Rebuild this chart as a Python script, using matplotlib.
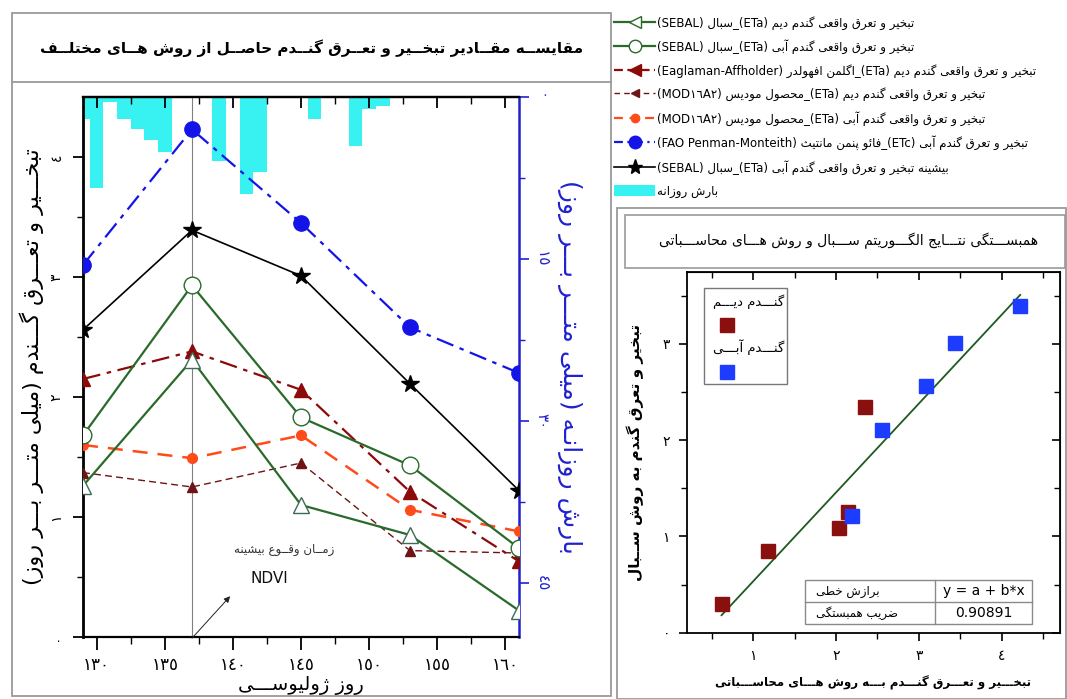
import numpy as np
import matplotlib
matplotlib.use("Agg")
import matplotlib.pyplot as plt
from matplotlib import font_manager, ft2font
from matplotlib.font_manager import FontProperties
from matplotlib.lines import Line2D
from matplotlib.patches import Rectangle, Patch

plt.rcParams['font.family'] = ['DejaVu Sans']

# ---------------- data ----------------
days = [129, 137, 145, 153, 161]
sebal_dry = [1.26, 2.31, 1.10, 0.85, 0.22]
sebal_irr = [1.68, 2.93, 1.83, 1.43, 0.74]
eagleman_dry = [2.15, 2.38, 2.06, 1.21, 0.63]
modis_dry = [1.37, 1.25, 1.45, 0.72, 0.70]
modis_irr = [1.60, 1.49, 1.68, 1.06, 0.88]
fao_irr = [3.10, 4.23, 3.45, 2.58, 2.20]
sebal_max = [2.56, 3.39, 3.01, 2.11, 1.22]

rain_days = [129, 130, 131, 132, 133, 134, 135, 139, 141, 142, 146, 149, 150, 151]
rain_mm = [2.0, 8.4, 0.5, 2.0, 3.0, 4.0, 5.05, 5.95, 8.95, 6.95, 2.0, 4.5, 1.08, 0.87]

sc_dry_x = [0.62, 1.18, 2.04, 2.14, 2.35]
sc_dry_y = [0.30, 0.85, 1.09, 1.25, 2.34]
sc_irr_x = [2.19, 2.56, 3.09, 3.44, 4.22]
sc_irr_y = [1.21, 2.11, 2.56, 3.01, 3.39]
corr_text = "0.90891"
fit_text = "y = a + b*x"

xticks_main = [130, 135, 140, 145, 150, 155, 160]
xtick_labels_main = ['١٣٠', '١٣٥', '١٤٠', '١٤٥', '١٥٠', '١٥٥', '١٦٠']
yticks_main = [0, 1, 2, 3, 4]
ytick_labels_main = ['٠', '١', '٢', '٣', '٤']
yticks_rain = [0, 15, 30, 45]
ytick_labels_rain = ['٠', '١٥', '٣٠', '٤٥']
xticks_sc = [1, 2, 3, 4]
xtick_labels_sc = ['١', '٢', '٣', '٤']
yticks_sc = [0, 1, 2, 3]
ytick_labels_sc = ['٠', '١', '٢', '٣']

title_main = "مقایســه مقــادیر تبخــیر و تعــرق گنــدم حاصــل از روش هــای مختلــف"
xlabel_main = "روز ژولیوســـی"
ylabel_main = "تبخـــیر و تعـــرق گـــندم (میلی متـــر بـــر روز)"
ylabel_rain = "بارش روزانـه (میلی متـــر بـــر روز)"
annot_text = "زمــان وقــوع بیشینه"
annot_ndvi = "NDVI"
legend_labels = [
    "تبخیر و تعرق واقعی گندم دیم (ETa)_سبال (SEBAL)",
    "تبخیر و تعرق واقعی گندم آبی (ETa)_سبال (SEBAL)",
    "تبخیر و تعرق واقعی گندم دیم (ETa)_اگلمن افهولدر (Eaglaman-Affholder)",
    "تبخیر و تعرق واقعی گندم دیم (ETa)_محصول مودیس (MOD١٦A٢)",
    "تبخیر و تعرق واقعی گندم آبی (ETa)_محصول مودیس (MOD١٦A٢)",
    "تبخیر و تعرق گندم آبی (ETc)_فائو پنمن مانتیث (FAO Penman-Monteith)",
    "بیشینه تبخیر و تعرق واقعی گندم آبی (ETa)_سبال (SEBAL)",
    "بارش روزانه",
]
title_sc = "همبســـتگی نتـــایج الگـــوریتم ســـبال و روش هـــای محاســـباتی"
xlabel_sc = "تبخـــیر و تعـــرق گنـــدم بـــه روش هـــای محاســـباتی"
ylabel_sc = "تبخیر و تعرق گندم به روش ســبال"
leg_sc_dry = "گنـــدم دیـــم"
leg_sc_irr = "گنـــدم آبـــی"
fit_label = "برازش خطی"
corr_label = "ضریب همبستگی"

# ---------------- Persian shaping (display only) ----------------
FORMS = {
    'ا': ('\uFE8D', '\uFE8E'), 'آ': ('\uFE81', '\uFE82'), 'أ': ('\uFE83', '\uFE84'),
    'ئ': ('\uFE89', '\uFE8A', '\uFE8B', '\uFE8C'),
    'ب': ('\uFE8F', '\uFE90', '\uFE91', '\uFE92'), 'پ': ('\uFB56', '\uFB57', '\uFB58', '\uFB59'),
    'ت': ('\uFE95', '\uFE96', '\uFE97', '\uFE98'), 'ث': ('\uFE99', '\uFE9A', '\uFE9B', '\uFE9C'),
    'ج': ('\uFE9D', '\uFE9E', '\uFE9F', '\uFEA0'), 'چ': ('\uFB7A', '\uFB7B', '\uFB7C', '\uFB7D'),
    'ح': ('\uFEA1', '\uFEA2', '\uFEA3', '\uFEA4'), 'خ': ('\uFEA5', '\uFEA6', '\uFEA7', '\uFEA8'),
    'د': ('\uFEA9', '\uFEAA'), 'ذ': ('\uFEAB', '\uFEAC'), 'ر': ('\uFEAD', '\uFEAE'),
    'ز': ('\uFEAF', '\uFEB0'), 'ژ': ('\uFB8A', '\uFB8B'),
    'س': ('\uFEB1', '\uFEB2', '\uFEB3', '\uFEB4'), 'ش': ('\uFEB5', '\uFEB6', '\uFEB7', '\uFEB8'),
    'ص': ('\uFEB9', '\uFEBA', '\uFEBB', '\uFEBC'), 'ض': ('\uFEBD', '\uFEBE', '\uFEBF', '\uFEC0'),
    'ط': ('\uFEC1', '\uFEC2', '\uFEC3', '\uFEC4'), 'ظ': ('\uFEC5', '\uFEC6', '\uFEC7', '\uFEC8'),
    'ع': ('\uFEC9', '\uFECA', '\uFECB', '\uFECC'), 'غ': ('\uFECD', '\uFECE', '\uFECF', '\uFED0'),
    'ف': ('\uFED1', '\uFED2', '\uFED3', '\uFED4'), 'ق': ('\uFED5', '\uFED6', '\uFED7', '\uFED8'),
    'ک': ('\uFB8E', '\uFB8F', '\uFB90', '\uFB91'), 'گ': ('\uFB92', '\uFB93', '\uFB94', '\uFB95'),
    'ل': ('\uFEDD', '\uFEDE', '\uFEDF', '\uFEE0'), 'م': ('\uFEE1', '\uFEE2', '\uFEE3', '\uFEE4'),
    'ن': ('\uFEE5', '\uFEE6', '\uFEE7', '\uFEE8'), 'ه': ('\uFEE9', '\uFEEA', '\uFEEB', '\uFEEC'),
    'و': ('\uFEED', '\uFEEE'), 'ی': ('\uFBFC', '\uFBFD', '\uFBFE', '\uFBFF'),
}
FALLBACK = {
    'ک': ('\uFED9', '\uFEDA', '\uFEDB', '\uFEDC'), 'گ': ('\uFED9', '\uFEDA', '\uFEDB', '\uFEDC'),
    'ی': ('\uFEEF', '\uFEF0', '\uFEF3', '\uFEF4'), 'پ': ('\uFE8F', '\uFE90', '\uFE91', '\uFE92'),
    'چ': ('\uFE9D', '\uFE9E', '\uFE9F', '\uFEA0'), 'ژ': ('\uFEAF', '\uFEB0'),
}
LAM_ALEF = {'ا': ('\uFEFB', '\uFEFC'), 'آ': ('\uFEF5', '\uFEF6'), 'أ': ('\uFEF7', '\uFEF8')}
TATWEEL = '\u0640'


def _charmap(weight):
    try:
        path = font_manager.findfont(FontProperties(family='DejaVu Sans', weight=weight))
        return ft2font.FT2Font(path).get_charmap()
    except Exception:
        return None


CMAP = _charmap('normal')
CMAP_B = _charmap('bold')
BOLD_OK = CMAP_B is not None and 0xFEB3 in CMAP_B and 0xFB92 in CMAP_B


def _build_forms(cmap):
    res = {}
    for k, v in FORMS.items():
        if cmap is None or all(ord(c) in cmap for c in v):
            res[k] = v
        elif k in FALLBACK and all(ord(c) in cmap for c in FALLBACK[k]):
            res[k] = FALLBACK[k]
        else:
            res[k] = tuple(k for _ in v)
    return res


USE_FORMS = _build_forms(CMAP)


def _jn(ch):
    return ch == TATWEEL or (ch in FORMS and len(FORMS[ch]) == 4)


def _jp(ch):
    return ch == TATWEEL or ch in FORMS


def shape(s):
    out = []
    i = 0
    n = len(s)
    while i < n:
        ch = s[i]
        prev = s[i - 1] if i > 0 else ''
        nxt = s[i + 1] if i + 1 < n else ''
        pj = _jn(prev) if prev else False
        if ch == 'ل' and nxt in LAM_ALEF:
            out.append(LAM_ALEF[nxt][1 if pj else 0])
            i += 2
            continue
        if ch in USE_FORMS:
            f = USE_FORMS[ch]
            nj = _jp(nxt) if nxt else False
            if len(f) == 4:
                g = f[3] if (pj and nj) else f[1] if pj else f[2] if nj else f[0]
            else:
                g = f[1] if pj else f[0]
            out.append(g)
        elif ch != '\u200c':
            out.append(ch)
        i += 1
    return ''.join(out)


MIRROR = {'(': ')', ')': '(', '[': ']', ']': '['}


def _is_rtl(ch):
    o = ord(ch)
    if 0x0660 <= o <= 0x0669 or 0x06F0 <= o <= 0x06F9:
        return False
    return (0x0600 <= o <= 0x06FF) or (0xFB50 <= o <= 0xFDFF) or (0xFE70 <= o <= 0xFEFF)


def fa(s):
    """logical Persian text -> visual order for matplotlib"""
    t = shape(s)
    types = ['R' if _is_rtl(c) else ('L' if c.isalnum() else 'N') for c in t]
    res = list(types)
    for i, tp in enumerate(types):
        if tp == 'N':
            p = next((types[j] for j in range(i - 1, -1, -1) if types[j] != 'N'), 'R')
            q = next((types[j] for j in range(i + 1, len(types)) if types[j] != 'N'), 'R')
            res[i] = 'L' if (p == 'L' and q == 'L') else 'R'
    runs = []
    for c, tp in zip(t, res):
        if runs and runs[-1][0] == tp:
            runs[-1][1].append(c)
        else:
            runs.append([tp, [c]])
    out = []
    for tp, chars in reversed(runs):
        if tp == 'R':
            out.extend(MIRROR.get(c, c) for c in reversed(chars))
        else:
            out.extend(chars)
    return ''.join(out)


BW = 'bold' if BOLD_OK else 'normal'

# ---------------- figure ----------------
W, H = 1067, 699
fig = plt.figure(figsize=(W / 100, H / 100), dpi=100)


def fx(x):
    return x / W


def fy(y):
    return 1 - y / H


GREY = '#9a9a9a'
# panel frames
fig.add_artist(Rectangle((fx(12), fy(696)), fx(611) - fx(12), fy(13) - fy(696),
                         transform=fig.transFigure, fill=False, ec=GREY, lw=1.3))
fig.add_artist(Line2D([fx(12), fx(611)], [fy(82), fy(82)], transform=fig.transFigure, color=GREY, lw=1.3))
fig.add_artist(Rectangle((fx(617), fy(699)), fx(1066) - fx(617), fy(208) - fy(699),
                         transform=fig.transFigure, fill=False, ec=GREY, lw=1.3))
fig.add_artist(Rectangle((fx(625), fy(268)), fx(1065) - fx(625), fy(215) - fy(268),
                         transform=fig.transFigure, fill=False, ec=GREY, lw=1.2))

fig.text(fx(312), fy(48), fa(title_main), ha='center', va='center', fontsize=11, fontweight=BW)
fig.text(fx(849), fy(241), fa(title_sc), ha='center', va='center', fontsize=10)

# ---------------- main axes ----------------
ax = fig.add_axes([fx(83), fy(637), fx(519) - fx(83), fy(97) - fy(637)])
ax2 = ax.twinx()
CYAN = '#38f2f2'
ax2.bar(rain_days, rain_mm, width=1.0, color=CYAN, edgecolor='none', zorder=1)
ax2.set_ylim(50, 0)
ax2.set_yticks(yticks_rain)
ax2.set_yticklabels(ytick_labels_rain, rotation=270, va='center')
ax2.set_yticks([7.5, 22.5, 37.5], minor=True)
BLUE_AX = '#2020d0'
ax2.tick_params(axis='y', which='major', direction='out', length=7, width=1.2, colors=BLUE_AX,
                labelsize=11, pad=4)
ax2.tick_params(axis='y', which='minor', direction='out', length=4, width=1.0, colors=BLUE_AX)
for s in ['left', 'top', 'bottom']:
    ax2.spines[s].set_visible(False)
ax2.spines['right'].set_color(BLUE_AX)
ax2.spines['right'].set_linewidth(1.8)
ax2.set_ylabel(fa(ylabel_rain), color=BLUE_AX, fontsize=18, rotation=270, labelpad=24)

ax.set_zorder(ax2.get_zorder() + 1)
ax.patch.set_visible(False)

GREEN = '#2a6a2a'
ax.axvline(137, color='#808080', lw=0.8, zorder=1)
ax.plot(days, sebal_dry, color=GREEN, ls='-', lw=1.6, marker='^', ms=11, mfc='white', mec='#3d6b55',
        mew=1.0, zorder=4)
ax.plot(days, sebal_irr, color=GREEN, ls='-', lw=1.6, marker='o', ms=12, mfc='white', mec=GREEN,
        mew=1.0, zorder=4)
ax.plot(days, eagleman_dry, color='#8b0a0a', ls=(0, (8, 3, 2, 3)), lw=1.6, marker='^', ms=10,
        mfc='#8b0a0a', mec='#8b0a0a', zorder=3)
ax.plot(days, modis_dry, color='#6e1414', ls=(0, (5, 3)), lw=1.0, marker='^', ms=7,
        mfc='#6e1414', mec='#6e1414', zorder=3)
ax.plot(days, modis_irr, color='#ff4a1a', ls=(0, (6, 4)), lw=1.8, marker='o', ms=7,
        mfc='#ff4a1a', mec='#ff4a1a', zorder=3)
ax.plot(days, fao_irr, color='#1414e8', ls=(0, (8, 3, 2, 3)), lw=1.6, marker='o', ms=11,
        mfc='#1414e8', mec='#1414e8', zorder=3)
ax.plot(days, sebal_max, color='black', ls='-', lw=1.2, marker='*', ms=13, mfc='black', mec='black',
        zorder=3)

ax.set_xlim(129, 161)
ax.set_ylim(0, 4.5)
ax.set_xticks(xticks_main)
ax.set_xticklabels(xtick_labels_main)
ax.set_xticks(np.arange(132.5, 161, 5), minor=True)
ax.set_yticks(yticks_main)
ax.set_yticklabels(ytick_labels_main, rotation=90, va='center')
ax.set_yticks([0.5, 1.5, 2.5, 3.5], minor=True)
ax.tick_params(axis='x', which='major', direction='out', length=9, width=1.3, labelsize=12, pad=5)
ax.tick_params(axis='x', which='minor', direction='out', length=5, width=1.0)
ax.tick_params(axis='y', which='major', direction='out', length=7, width=1.3, labelsize=10, pad=7)
ax.tick_params(axis='y', which='minor', direction='out', length=4, width=1.0)
ax.spines['right'].set_visible(False)
ax.spines['left'].set_linewidth(2.0)
ax.spines['bottom'].set_linewidth(1.6)
ax.spines['top'].set_linewidth(1.6)
top = ax.secondary_xaxis('top')
top.set_xticks(xticks_main)
top.set_xticks(np.arange(132.5, 161, 5), minor=True)
top.tick_params(axis='x', which='major', direction='in', length=8, width=1.3, labeltop=False)
top.tick_params(axis='x', which='minor', direction='in', length=5, width=1.0)
top.spines['top'].set_linewidth(1.6)

ax.set_xlabel(fa(xlabel_main), fontsize=14, labelpad=1)
ax.set_ylabel(fa(ylabel_main), fontsize=16, labelpad=4)

ax.annotate('', xy=(139.8, 0.34), xytext=(137.0, -0.01),
            arrowprops=dict(arrowstyle='-|>', lw=0.7, color='#222222', mutation_scale=9,
                            shrinkA=0, shrinkB=0), annotation_clip=False)
ax.text(143.8, 0.73, fa(annot_text), ha='center', va='center', fontsize=8.5, color='#333333')
ax.text(142.7, 0.49, annot_ndvi, ha='center', va='center', fontsize=11, color='#111111')

# legend (top right)
handles = [
    Line2D([], [], color=GREEN, lw=1.6, marker='<', ms=9, mfc='white', mec=GREEN),
    Line2D([], [], color=GREEN, lw=1.6, marker='o', ms=9, mfc='white', mec=GREEN),
    Line2D([], [], color='#8b0a0a', lw=1.6, ls=(0, (4, 2)), marker='<', ms=9, mfc='#8b0a0a', mec='#8b0a0a'),
    Line2D([], [], color='#6e1414', lw=1.0, ls=(0, (4, 3)), marker='<', ms=6, mfc='#6e1414', mec='#6e1414'),
    Line2D([], [], color='#ff4a1a', lw=1.6, ls=(0, (4, 3)), marker='o', ms=6, mfc='#ff4a1a', mec='#ff4a1a'),
    Line2D([], [], color='#1414e8', lw=1.6, ls=(0, (4, 2, 1, 2)), marker='o', ms=9, mfc='#1414e8', mec='#1414e8'),
    Line2D([], [], color='black', lw=1.2, marker='*', ms=11, mfc='black', mec='black'),
    Patch(facecolor=CYAN, edgecolor='none'),
]
fig.legend(handles, [fa(t) for t in legend_labels], loc='upper left',
           bbox_to_anchor=(fx(614), fy(16)), frameon=False, fontsize=8.5,
           handlelength=3.5, handleheight=1.1, labelspacing=0.82, handletextpad=0.15, borderaxespad=0,
           borderpad=0)

# ---------------- scatter axes ----------------
sx = fig.add_axes([fx(686.7), fy(632.7), fx(1060) - fx(686.7), fy(271.7) - fy(632.7)])
RED_SQ = '#8a0f0f'
BLUE_SQ = '#1c3cff'
sx.plot(sc_dry_x, sc_dry_y, ls='none', marker='s', ms=9.5, mfc=RED_SQ, mec=RED_SQ, zorder=3)
sx.plot(sc_irr_x, sc_irr_y, ls='none', marker='s', ms=9.5, mfc=BLUE_SQ, mec=BLUE_SQ, zorder=3)
all_x = np.array(sc_dry_x + sc_irr_x)
all_y = np.array(sc_dry_y + sc_irr_y)
b, a = np.polyfit(all_x, all_y, 1)
xx = np.linspace(all_x.min(), all_x.max(), 50)
sx.plot(xx, a + b * xx, color='#1e5a1e', lw=1.3, zorder=2)
sx.set_xlim(0.2, 4.7)
sx.set_ylim(0, 3.75)
sx.set_xticks(xticks_sc)
sx.set_xticklabels(xtick_labels_sc)
sx.set_xticks([0.5, 1.5, 2.5, 3.5, 4.5], minor=True)
sx.set_yticks(yticks_sc)
sx.set_yticklabels(ytick_labels_sc)
sx.set_yticks([0.5, 1.5, 2.5, 3.5], minor=True)
sx.tick_params(axis='both', which='major', direction='out', length=6, width=1.2, labelsize=10, pad=6)
sx.tick_params(axis='both', which='minor', direction='out', length=4, width=1.0)
for s in sx.spines.values():
    s.set_linewidth(1.3)
stop = sx.secondary_xaxis('top')
stop.set_xticks(xticks_sc)
stop.set_xticks([0.5, 1.5, 2.5, 3.5, 4.5], minor=True)
stop.tick_params(axis='x', which='major', direction='in', length=6, width=1.2, labeltop=False)
stop.tick_params(axis='x', which='minor', direction='in', length=4, width=1.0)
sright = sx.secondary_yaxis('right')
sright.set_yticks(yticks_sc)
sright.set_yticks([0.5, 1.5, 2.5, 3.5], minor=True)
sright.tick_params(axis='y', which='major', direction='in', length=6, width=1.2, labelright=False)
sright.tick_params(axis='y', which='minor', direction='in', length=4, width=1.0)

sx.set_xlabel(fa(xlabel_sc), fontsize=8.5, fontweight=BW, labelpad=9)
sx.set_ylabel(fa(ylabel_sc), fontsize=11, fontweight=BW, labelpad=13)

# scatter legend box
sx.add_patch(Rectangle((0.046, 0.689), 0.222, 0.266, transform=sx.transAxes, fill=False,
                       ec='#777777', lw=1.0, zorder=5))
sx.text(0.165, 0.918, fa(leg_sc_dry), transform=sx.transAxes, ha='center', va='center', fontsize=9.5)
sx.text(0.165, 0.790, fa(leg_sc_irr), transform=sx.transAxes, ha='center', va='center', fontsize=9.5)
sx.add_line(Line2D([0.107], [0.852], transform=sx.transAxes, ls='none', marker='s', ms=9.5,
                   mfc=RED_SQ, mec=RED_SQ))
sx.add_line(Line2D([0.107], [0.722], transform=sx.transAxes, ls='none', marker='s', ms=9.5,
                   mfc=BLUE_SQ, mec=BLUE_SQ))

# statistics table
x0, x1, xd = 0.317, 0.925, 0.665
y0, y1, ym = 0.024, 0.146, 0.085
sx.add_patch(Rectangle((x0, y0), x1 - x0, y1 - y0, transform=sx.transAxes, fill=True, fc='white',
                       ec='#8a8a8a', lw=1.0, zorder=5))
sx.add_line(Line2D([xd, xd], [y0, y1], transform=sx.transAxes, color='#8a8a8a', lw=1.0, zorder=6))
sx.add_line(Line2D([x0, x1], [ym, ym], transform=sx.transAxes, color='#8a8a8a', lw=1.0, zorder=6))
sx.text(x0 + 0.03, (ym + y1) / 2, fa(fit_label), transform=sx.transAxes, ha='left', va='center',
        fontsize=8.5, zorder=7)
sx.text(x0 + 0.03, (y0 + ym) / 2, fa(corr_label), transform=sx.transAxes, ha='left', va='center',
        fontsize=8.5, zorder=7)
sx.text((xd + x1) / 2, (ym + y1) / 2, fit_text, transform=sx.transAxes, ha='center', va='center',
        fontsize=10, zorder=7)
sx.text((xd + x1) / 2, (y0 + ym) / 2, corr_text, transform=sx.transAxes, ha='center', va='center',
        fontsize=10, zorder=7)

fig.savefig('out.png', dpi=100)
